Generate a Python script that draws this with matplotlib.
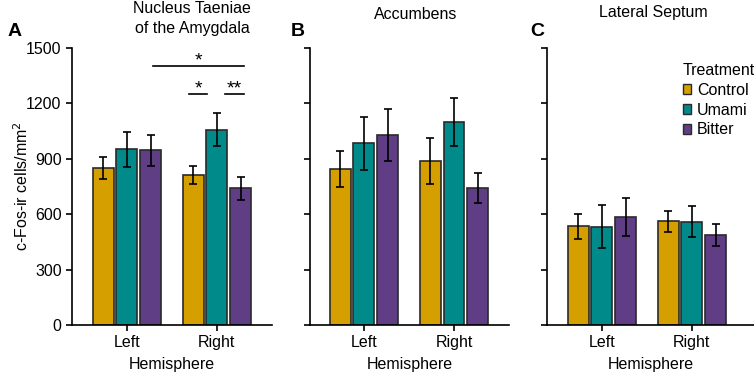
import numpy as np
import matplotlib.pyplot as plt
from matplotlib.patches import Patch

plt.rcParams['font.family'] = ['Liberation Sans', 'DejaVu Sans']
plt.rcParams['font.size'] = 11.5

hemispheres = ['Left', 'Right']
treatments = ['Control', 'Umami', 'Bitter']
colors = ['#D59F00', '#008B8A', '#5F3E86']

regions = ['Nucleus Taeniae\nof the Amygdala', 'Accumbens', 'Lateral Septum']
letters = ['A', 'B', 'C']

# means[region][treatment] = [Left, Right]
nta_mean = [[850, 812], [950, 1058], [945, 740]]
nta_err = [[62, 50], [97, 90], [85, 62]]
acc_mean = [[845, 888], [984, 1101], [1029, 742]]
acc_err = [[97, 123], [143, 130], [140, 83]]
ls_mean = [[534, 561], [532, 560], [585, 487]]
ls_err = [[68, 55], [115, 82], [103, 62]]

means = [nta_mean, acc_mean, ls_mean]
errs = [nta_err, acc_err, ls_err]

# significance brackets in panel A: (x0, x1, y, label)
sig = [(0.29, 1.30, 1400, '*'), (0.69, 0.89, 1250, '*'), (1.09, 1.30, 1250, '**')]

fig = plt.figure(figsize=(7.54, 3.74), dpi=100)
bottom, height = 0.131, 0.741
lefts = [0.0955, 0.411, 0.7255]
widths = [0.265, 0.264, 0.2745]
xlims = [(-0.61, 1.61), (-0.60, 1.61), (-0.61, 1.69)]
title_pos = [(0.60, 1.106), (0.533, 1.119), (0.512, 1.126)]
letter_x = [0.010, 0.386, 0.703]

x = np.arange(len(hemispheres))
step = 0.264
bw = 0.232

axes = []
for i in range(3):
    ax = fig.add_axes([lefts[i], bottom, widths[i], height])
    axes.append(ax)
    for j, t in enumerate(treatments):
        ax.bar(x + (j - 1) * step, means[i][j], bw, color=colors[j],
               edgecolor='#2a2a2a', linewidth=1.2, label=t, zorder=2)
        ax.errorbar(x + (j - 1) * step, means[i][j], yerr=errs[i][j], fmt='none',
                    ecolor='black', elinewidth=1.2, capsize=3, capthick=1.2, zorder=3)
    ax.set_ylim(0, 1500)
    ax.set_xlim(*xlims[i])
    ax.set_yticks([0, 300, 600, 900, 1200, 1500])
    ax.set_xticks(x)
    ax.set_xticklabels(hemispheres)
    ax.set_xlabel('Hemisphere', va='center')
    ax.xaxis.set_label_coords(0.5, -0.144)
    for s in ['top', 'right']:
        ax.spines[s].set_visible(False)
    for s in ['left', 'bottom']:
        ax.spines[s].set_linewidth(1.2)
    ax.tick_params(width=1.2, length=4.5, labelsize=11.5, pad=3)
    if i > 0:
        ax.set_yticklabels([])
    ax.text(title_pos[i][0], title_pos[i][1], regions[i], transform=ax.transAxes,
            ha='center', va='center', fontsize=11.5, linespacing=1.35)
    fig.text(letter_x[i], 0.915, letters[i], fontsize=14, fontweight='bold', va='center')

axes[0].set_ylabel('c-Fos-ir cells/mm$^2$')
axes[0].yaxis.set_label_coords(-0.205, 0.5)

for x0, x1, y, lab in sig:
    axes[0].plot([x0, x1], [y, y], color='black', lw=1.2)
    axes[0].text((x0 + x1) / 2, y + 28, lab, ha='center', va='center', fontsize=14)

handles = [Patch(facecolor=c, edgecolor='#2a2a2a', linewidth=1.0, label=t)
           for c, t in zip(colors, treatments)]
leg = axes[2].legend(handles=handles, title='Treatment', frameon=False,
                     loc='upper left', bbox_to_anchor=(0.655, 0.945),
                     handlelength=0.55, handleheight=0.55, handletextpad=0.35,
                     labelspacing=0.3, alignment='left', fontsize=11.5,
                     title_fontsize=11.5, borderaxespad=0, borderpad=0)

fig.savefig('out.png', dpi=100)
